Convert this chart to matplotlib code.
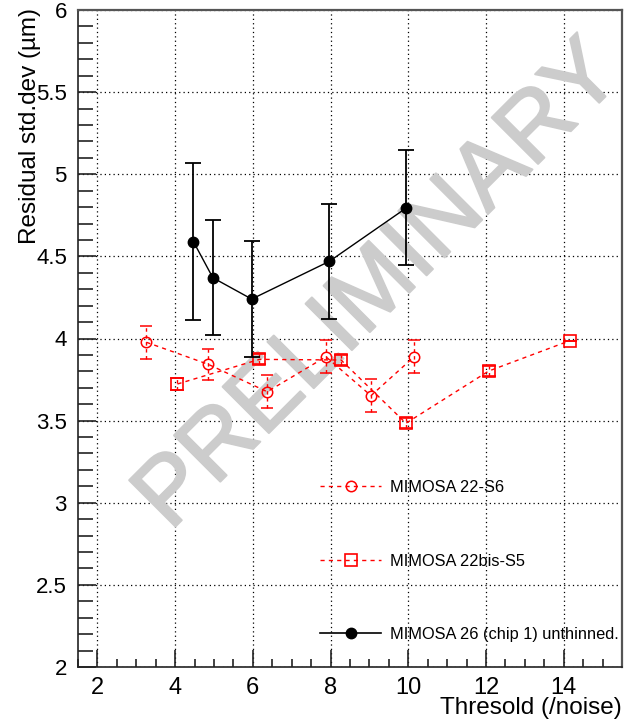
import matplotlib
matplotlib.use("Agg")
import matplotlib.pyplot as plt
import matplotlib.patheffects as pe
from matplotlib.lines import Line2D
from matplotlib.ticker import MultipleLocator, FuncFormatter

plt.rcParams['font.family'] = ['Liberation Sans', 'DejaVu Sans']

# MIMOSA 22-S6 (red open circles)
s6_x = [3.26, 4.85, 6.37, 7.88, 9.04, 10.15]
s6_y = [3.977, 3.843, 3.676, 3.889, 3.652, 3.889]
s6_err = [0.10, 0.095, 0.10, 0.10, 0.10, 0.10]

# MIMOSA 22bis-S5 (red open squares)
s5_x = [4.06, 6.17, 8.27, 9.94, 12.07, 14.16]
s5_y = [3.723, 3.873, 3.869, 3.484, 3.802, 3.987]
s5_err = [0.035, 0.03, 0.03, 0.03, 0.03, 0.0]

# MIMOSA 26 (chip 1) unthinned (black filled circles)
m26_x = [4.47, 4.97, 5.97, 7.97, 9.95]
m26_y = [4.59, 4.37, 4.24, 4.47, 4.795]
m26_err = [0.48, 0.35, 0.355, 0.35, 0.35]

labels = ["MIMOSA 22-S6", "MIMOSA 22bis-S5", "MIMOSA 26 (chip 1) unthinned."]
xlabel = "Thresold (/noise)"
ylabel = "Residual std.dev (µm)"
watermark = "PRELIMINARY"

W, H = 630, 722
fig = plt.figure(figsize=(W / 100, H / 100), dpi=100)
ax = fig.add_axes([78 / W, 1 - 667 / H, (622 - 78) / W, (667 - 10) / H])

ax.set_xlim(1.5, 15.5)
ax.set_ylim(2, 6)

ax.xaxis.set_major_locator(MultipleLocator(2))
ax.xaxis.set_minor_locator(MultipleLocator(0.5))
ax.yaxis.set_major_locator(MultipleLocator(0.5))
ax.yaxis.set_minor_locator(MultipleLocator(0.1))
ax.tick_params(which='both', direction='in', top=False, right=False,
               width=1.2, color='#222222')
ax.tick_params(axis='x', which='major', length=12, pad=7, labelsize=17)
ax.tick_params(axis='x', which='minor', length=6)
ax.tick_params(axis='y', which='major', length=13, pad=8, labelsize=16)
ax.tick_params(axis='y', which='minor', length=11)

def fmt(v, pos=None):
    return "%g" % v
ax.xaxis.set_major_formatter(FuncFormatter(fmt))
ax.yaxis.set_major_formatter(FuncFormatter(fmt))

ax.grid(True, which='major', linestyle=(0, (1, 2.5)), color='black', linewidth=0.9, zorder=0)
ax.set_axisbelow(True)

for side in ['left', 'bottom']:
    ax.spines[side].set_color('#222222')
    ax.spines[side].set_linewidth(1.2)
for side in ['right', 'top']:
    ax.spines[side].set_color('#555555')
    ax.spines[side].set_linewidth(1.6)

# watermark
ax.text(0.169, 0.2055, watermark, transform=ax.transAxes, fontsize=68.5,
        color='#cccccc', rotation=45, ha='left', va='baseline',
        rotation_mode='anchor', zorder=1, clip_on=False,
        path_effects=[pe.withStroke(linewidth=1.5, foreground='#cccccc')])

red = '#ff0000'
# S6
e = ax.errorbar(s6_x, s6_y, yerr=s6_err, color=red, linestyle=(0, (3, 3)), linewidth=1,
                marker='o', markersize=7.5, markerfacecolor='none', markeredgecolor=red,
                markeredgewidth=1.1, capsize=4, elinewidth=1, zorder=3)
for b in e[2]:
    b.set_linestyle((0, (2.5, 2.5)))
# S5
e = ax.errorbar(s5_x, s5_y, yerr=s5_err, color=red, linestyle=(0, (3, 3)), linewidth=1,
                marker='s', markersize=8, markerfacecolor='none', markeredgecolor=red,
                markeredgewidth=1.2, capsize=5, elinewidth=1, zorder=3)
for b in e[2]:
    b.set_linestyle((0, (2.5, 2.5)))
# M26
ax.errorbar(m26_x, m26_y, yerr=m26_err, color='black', linestyle='-', linewidth=1,
            marker='o', markersize=7.5, markerfacecolor='black', markeredgecolor='black',
            capsize=6, elinewidth=1.3, capthick=1.3, zorder=4)

handles = [
    Line2D([], [], color=red, linestyle=(0, (3, 3)), linewidth=1, marker='o', markersize=7.5,
           markerfacecolor='none', markeredgecolor=red, markeredgewidth=1.1),
    Line2D([], [], color=red, linestyle=(0, (3, 3)), linewidth=1, marker='s', markersize=8,
           markerfacecolor='none', markeredgecolor=red, markeredgewidth=1.2),
    Line2D([], [], color='black', linestyle='-', linewidth=1.2, marker='o', markersize=7.5,
           markerfacecolor='black', markeredgecolor='black'),
]
leg = fig.legend(handles, labels, loc='center left', bbox_to_anchor=(320 / W, 1 - 561 / H),
                 frameon=False, fontsize=11.8, labelspacing=3.57, handlelength=3.75,
                 handletextpad=0.55, borderpad=0, borderaxespad=0)

fig.text(30 / W, 1 - 8 / H, ylabel, rotation=90, ha='center', va='top', fontsize=17.5)
fig.text(622 / W, 1 - 714 / H, xlabel, ha='right', va='baseline', fontsize=17.5)

fig.savefig('out.png', dpi=100)
